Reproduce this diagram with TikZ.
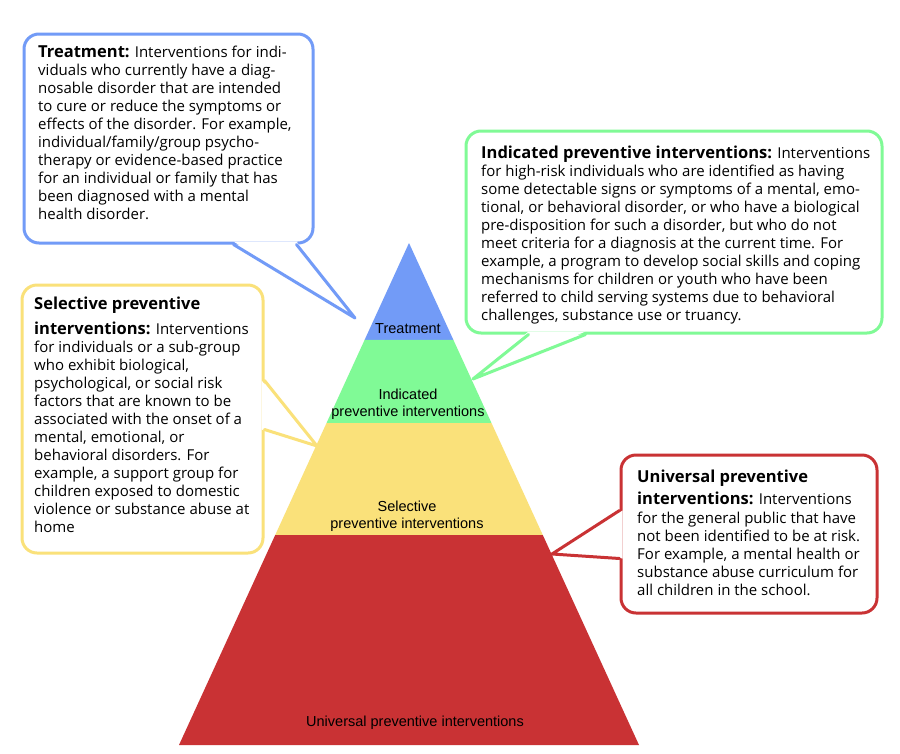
\documentclass[tikz,border=0pt]{standalone}
\usepackage{fontspec}
\setmainfont{Open Sans}
\newfontfamily\pyrfont{Liberation Sans}
\usetikzlibrary{calc}

\definecolor{treatblue}{RGB}{114,155,247}
\definecolor{indgreen}{RGB}{128,250,150}
\definecolor{selyellow}{RGB}{250,225,122}
\definecolor{unired}{RGB}{201,50,52}

\tikzset{
  callbox/.style={draw=#1, line width=3pt, rounded corners=15pt, fill=white, inner sep=0pt},
  tailline/.style={draw=#1, line width=3pt, line join=round, line cap=round},
  calltext/.style={anchor=north west, align=left, inner sep=0pt, font=\fontsize{15}{18}\selectfont},
  pyrlabel/.style={align=center, inner sep=0pt, font=\pyrfont\fontsize{14.5}{17}\selectfont}
}
\newcommand{\ttl}[1]{{\fontsize{16.5}{18}\selectfont\bfseries #1}}

\begin{document}
\begin{tikzpicture}[x=1pt, y=-1pt]
        \fill[white] (0,0) rectangle (900,753);
        \useasboundingbox (0,0) rectangle (900,753);

        % pyramid
        \coordinate (A) at (409,243);
        \coordinate (BL) at (179,745);
        \coordinate (BR) at (639,745);
        \foreach \ta/\tb/\col in {0/0.193/treatblue, 0.193/0.3586/indgreen, 0.3586/0.5817/selyellow, 0.5817/1/unired} {
            \fill[\col] ($(A)!\ta!(BL)$) -- ($(A)!\tb!(BL)$) -- ($(A)!\tb!(BR)$) -- ($(A)!\ta!(BR)$) -- cycle;
        }
        \node[pyrlabel] (treatlabel) at (408,329) {Treatment};
        \node[pyrlabel] (indlabel) at (408,404) {Indicated\\preventive interventions};
        \node[pyrlabel] (sellabel) at (407,516) {Selective\\preventive interventions};
        \node[pyrlabel] (unilabel) at (415,722.5) {Universal preventive interventions};

        % boxes
        \node[callbox=treatblue, minimum width=289, minimum height=209] (treatbox) at (168.5,138.5) {};
        \node[callbox=indgreen, minimum width=416, minimum height=202] (indbox) at (674,232) {};
        \node[callbox=selyellow, minimum width=241, minimum height=268] (selbox) at (142.5,419) {};
        \node[callbox=unired, minimum width=256, minimum height=158] (unibox) at (749,534) {};

        % tails
        \coordinate (treattip) at (355,318);
        \coordinate (treatl) at ($(treatbox.south west)+(211,0)$);
        \coordinate (treatr) at ($(treatbox.south east)+(-18,0)$);
        \coordinate (indtip) at (473,379);
        \coordinate (indl) at ($(indbox.south west)+(64,0)$);
        \coordinate (indr) at ($(indbox.south west)+(121,0)$);
        \coordinate (seltip) at (317,446);
        \coordinate (selu) at ($(selbox.north east)+(0,97)$);
        \coordinate (seld) at ($(selbox.south east)+(0,-125)$);
        \coordinate (unitip) at (552,554);
        \coordinate (uniu) at ($(unibox.north west)+(0,57)$);
        \coordinate (unid) at ($(unibox.south west)+(0,-56)$);

        \fill[white] ($(treatl)+(0,-3)$) -- (treattip) -- ($(treatr)+(0,-3)$) -- cycle;
        \draw[tailline=treatblue] (treatl) -- (treattip) -- (treatr);
        \fill[white] ($(indl)+(0,-3)$) -- (indtip) -- ($(indr)+(0,-3)$) -- cycle;
        \draw[tailline=indgreen] (indl) -- (indtip) -- (indr);
        \fill[white] ($(selu)+(-3,0)$) -- (seltip) -- ($(seld)+(-3,0)$) -- cycle;
        \draw[tailline=selyellow] (selu) -- (seltip) -- (seld);
        \fill[white] ($(uniu)+(3,0)$) -- (unitip) -- ($(unid)+(3,0)$) -- cycle;
        \draw[tailline=unired] (uniu) -- (unitip) -- (unid);

        % texts
        \node[calltext] (treattext) at (38,46) {\ttl{Treatment:} Interventions for indi-\\
            viduals who currently have a diag-\\
            nosable disorder that are intended\\
            to cure or reduce the symptoms or\\
            effects of the disorder. For example,\\
            individual/family/group psycho-\\
            therapy or evidence-based practice\\
            for an individual or family that has\\
            been diagnosed with a mental\\
            health disorder.};
        \node[calltext] (indtext) at (481,146) {\ttl{Indicated preventive interventions:} Interventions\\
            for high-risk individuals who are identified as having\\
            some detectable signs or symptoms of a mental, emo-\\
            tional, or behavioral disorder, or who have a biological\\
            pre-disposition for such a disorder, but who do not\\
            meet criteria for a diagnosis at the current time. For\\
            example, a program to develop social skills and coping\\
            mechanisms for children or youth who have been\\
            referred to child serving systems due to behavioral\\
            challenges, substance use or truancy.};
        \node[calltext] (seltext) at (34,297) {\ttl{Selective preventive}\\[7pt]
            \ttl{interventions:} Interventions\\
            for individuals or a sub-group\\
            who exhibit biological,\\
            psychological, or social risk\\
            factors that are known to be\\
            associated with the onset of a\\
            mental, emotional, or\\
            behavioral disorders. For\\
            example, a support group for\\
            children exposed to domestic\\
            violence or substance abuse at\\
            home};
        \node[calltext] (unitext) at (637,470) {\ttl{Universal preventive}\\[3.5pt]
            \ttl{interventions:} Interventions\\[1.5pt]
            for the general public that have\\
            not been identified to be at risk.\\
            For example, a mental health or\\
            substance abuse curriculum for\\
            all children in the school.};
    \end{tikzpicture}
\end{document}
